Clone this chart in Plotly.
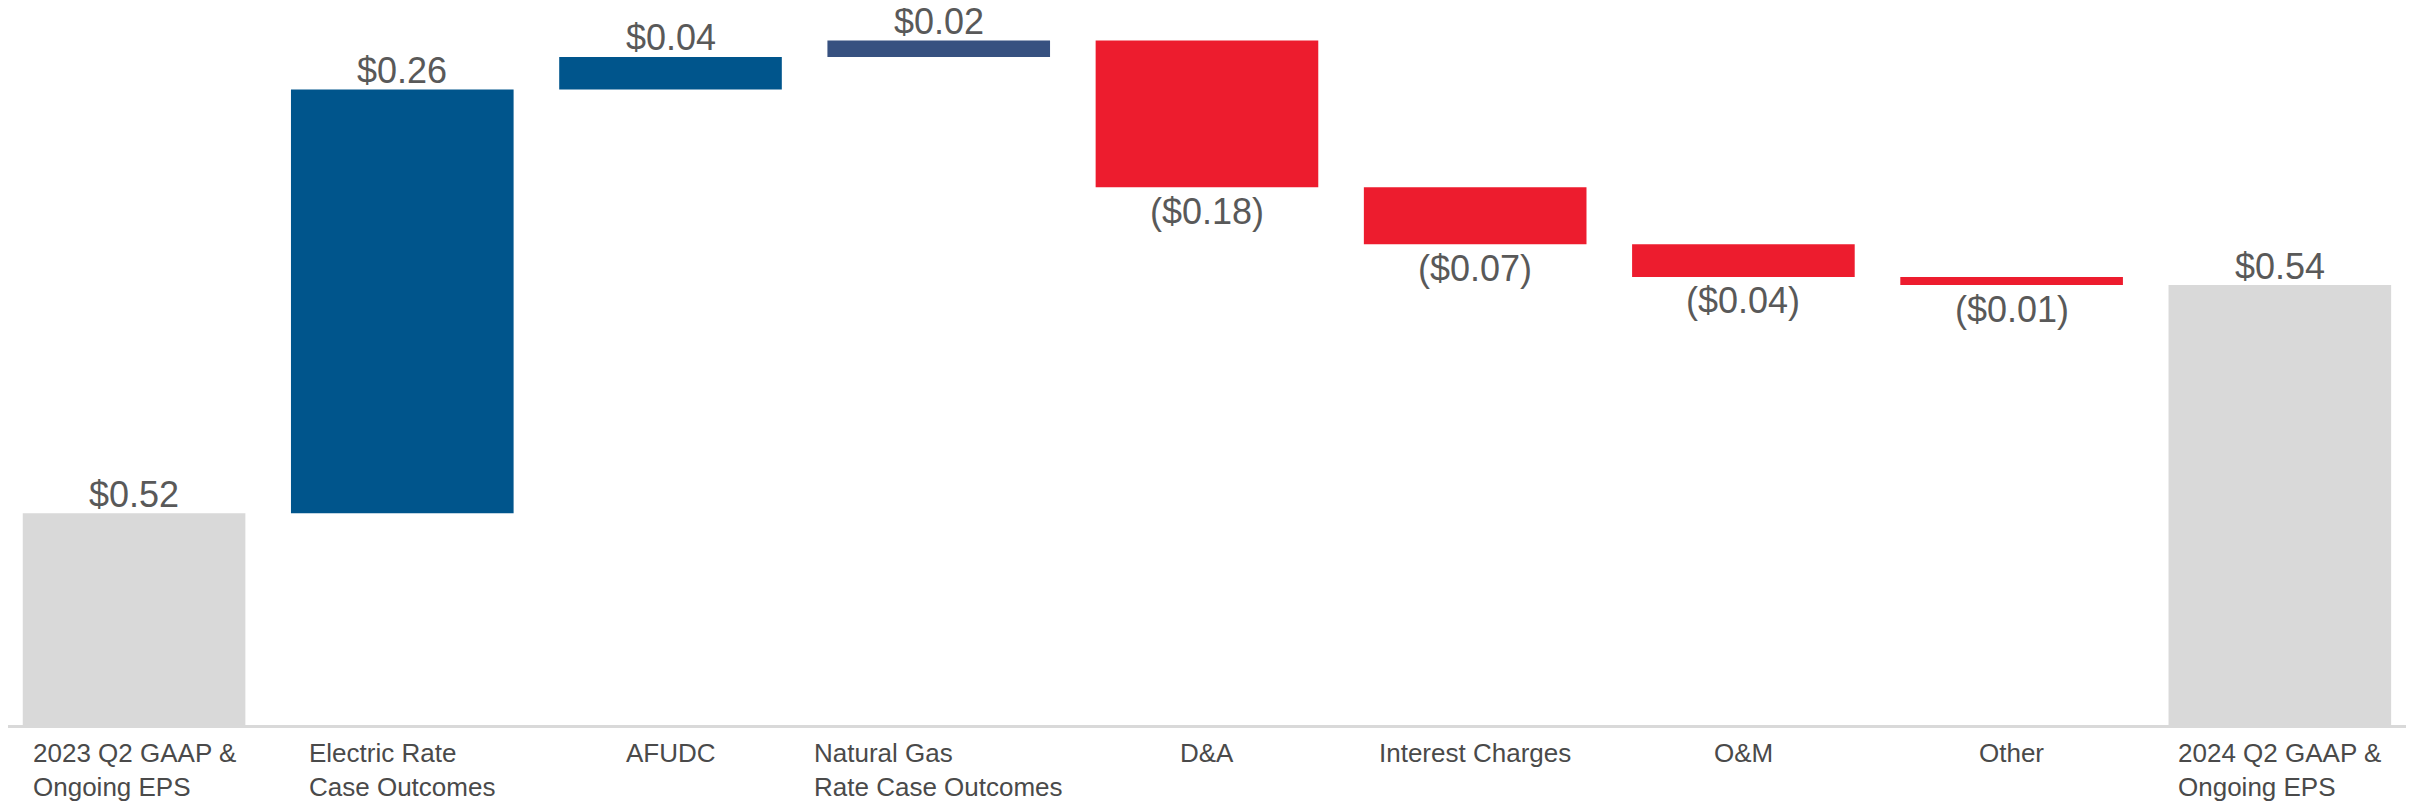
import plotly.graph_objects as go

# categories (x axis) and bar kinds
categories = [
    "2023 Q2 GAAP &<br>Ongoing EPS",
    "Electric Rate<br>Case Outcomes",
    "AFUDC",
    "Natural Gas<br>Rate Case Outcomes",
    "D&A",
    "Interest Charges",
    "O&M",
    "Other",
    "2024 Q2 GAAP &<br>Ongoing EPS",
]
kinds = ["total", "delta", "delta", "delta", "delta", "delta", "delta", "delta", "total"]

# bar heights as drawn in the source picture (the source draws the first two
# steps with their heights swapped relative to their printed labels)
drawn_values = [0.26, 0.52, 0.04, 0.02, -0.18, -0.07, -0.04, -0.01, 0.54]
value_labels = ["$0.52", "$0.26", "$0.04", "$0.02", "($0.18)", "($0.07)", "($0.04)", "($0.01)", "$0.54"]
bar_colors = ["#D9D9D9", "#00558C", "#00558C", "#375180", "#ED1C2E",
              "#ED1C2E", "#ED1C2E", "#ED1C2E", "#D9D9D9"]

FONT = "Liberation Sans, Arial, sans-serif"

# floating bar bases from the running total
bases = []
running = 0.0
for kind, v in zip(kinds, drawn_values):
    if kind == "total":
        bases.append(0.0)
        running = v
    else:
        bases.append(running)
        running += v

fig = go.Figure()
fig.add_trace(go.Bar(
    x=categories,
    y=drawn_values,
    base=bases,
    marker=dict(color=bar_colors, line=dict(width=0)),
    cliponaxis=False,
    width=0.83,
    hoverinfo="skip",
))

# value labels just beyond the end of each bar
for cat, b, v, lab in zip(categories, bases, drawn_values, value_labels):
    fig.add_annotation(
        x=cat, y=b + v, xref="x", yref="y",
        text=lab, showarrow=False,
        xanchor="center", yanchor="middle",
        yshift=19 if v >= 0 else -24,
        borderpad=0,
        font=dict(size=36, color="#595959", family=FONT),
    )

# category labels: block centered under the bar, lines left-aligned
for cat in categories:
    fig.add_annotation(
        x=cat, y=0, xref="x", yref="paper",
        text=cat, showarrow=False,
        xanchor="center", yanchor="top", align="left",
        yshift=-11,
        font=dict(size=26, color="#4a4a4a", family=FONT),
    )

fig.update_layout(
    width=2414, height=807,
    margin=dict(l=0, r=0, t=0, b=90),
    plot_bgcolor="white", paper_bgcolor="white",
    showlegend=False,
    xaxis=dict(
        showticklabels=False, showgrid=False, zeroline=False,
        showline=True, linecolor="#D9D9D9", linewidth=3,
        range=[-0.47, 8.53],
    ),
    yaxis=dict(visible=False, range=[0, 0.88]),
)

fig.write_html("out.html")
